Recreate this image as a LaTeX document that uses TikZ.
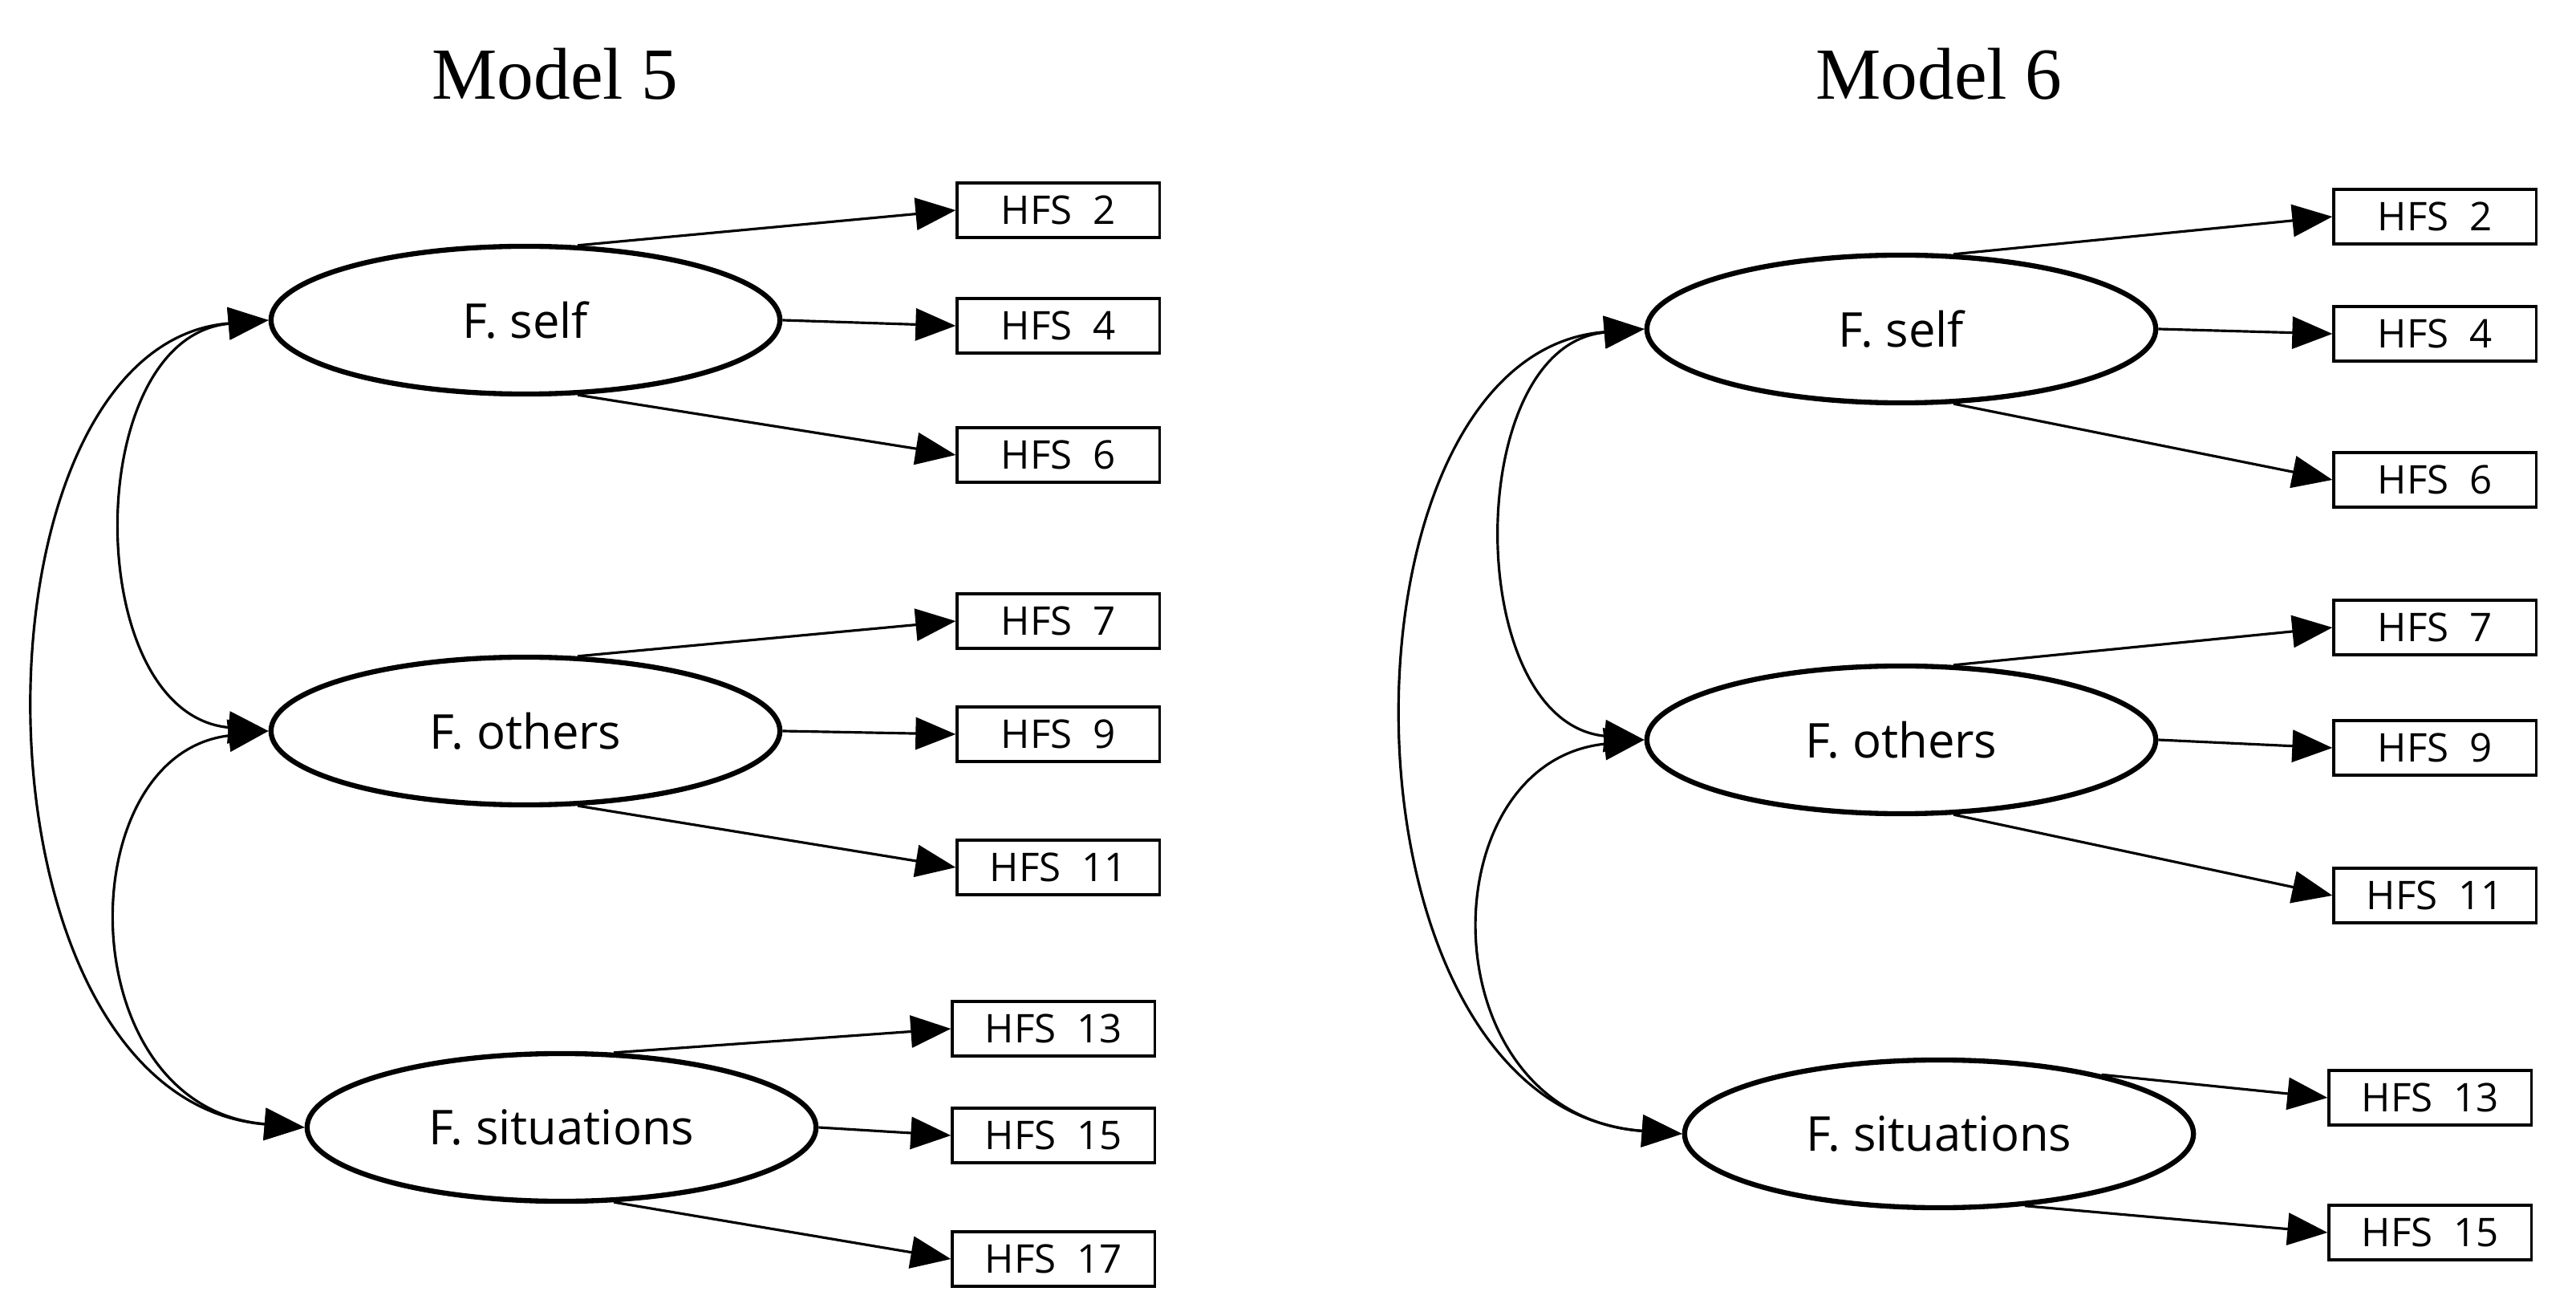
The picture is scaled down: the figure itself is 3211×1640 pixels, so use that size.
\documentclass[tikz,border=0pt]{standalone}
\usepackage{fontspec}
\setmainfont{Open Sans}
\newfontfamily\ttlfont{Liberation Serif}
\usetikzlibrary{arrows.meta,shapes.geometric}
\begin{document}
\begin{tikzpicture}[x=0.01cm,y=-0.01cm,
  lat/.style={draw,line width=1.8pt,ellipse,minimum width=6.34cm,minimum height=1.84cm,inner sep=0pt,font=\fontsize{17}{20}\selectfont},
  box/.style={draw,line width=0.9pt,minimum width=2.52cm,minimum height=0.68cm,inner sep=0pt,font=\fontsize{14}{17}\selectfont},
  ttl/.style={font=\ttlfont\fontsize{26}{30}\selectfont},
  ar/.style={line width=0.9pt,-{Triangle[length=0.5cm,width=0.4cm]}},
  dar/.style={line width=0.9pt,{Triangle[length=0.5cm,width=0.4cm]}-{Triangle[length=0.5cm,width=0.4cm]}}]
\useasboundingbox (0,0) rectangle (3211,1640);
\node[ttl] (t5) at (692,92) {Model 5};
\node[ttl] (t6) at (2417,92) {Model 6};
% Model 5
\node[lat] (s5) at (655,399) {F. self};
\node[lat] (o5) at (655,911) {F. others};
\node[lat] (u5) at (700,1405) {F. situations};
\node[box] (b52) at (1319,262) {HFS\ \ 2};
\node[box] (b54) at (1319,406) {HFS\ \ 4};
\node[box] (b56) at (1319,567) {HFS\ \ 6};
\node[box] (b57) at (1319,774) {HFS\ \ 7};
\node[box] (b59) at (1319,915) {HFS\ \ 9};
\node[box] (b511) at (1319,1081) {HFS\ \ 11};
\node[box] (b513) at (1313,1282) {HFS\ \ 13};
\node[box] (b515) at (1313,1415) {HFS\ \ 15};
\node[box] (b517) at (1313,1569) {HFS\ \ 17};
\draw[ar] (s5.55) -- (b52.west);
\draw[ar] (s5.east) -- (b54.west);
\draw[ar] (s5.-55) -- (b56.west);
\draw[ar] (o5.55) -- (b57.west);
\draw[ar] (o5.east) -- (b59.west);
\draw[ar] (o5.-55) -- (b511.west);
\draw[ar] (u5.55) -- (b513.west);
\draw[ar] (u5.east) -- (b515.west);
\draw[ar] (u5.-55) -- (b517.west);
\draw[dar] (s5.west) .. controls (100,420) and (100,890) .. (o5.west);
\draw[dar] (o5.west) .. controls (85,940) and (85,1380) .. (u5.west);
\draw[dar] (s5.west) .. controls (-52,430) and (-52,1370) .. (u5.west);
% Model 6
\node[lat] (s6) at (2370,410) {F. self};
\node[lat] (o6) at (2370,922) {F. others};
\node[lat] (u6) at (2417,1413) {F. situations};
\node[box] (b62) at (3035,270) {HFS\ \ 2};
\node[box] (b64) at (3035,416) {HFS\ \ 4};
\node[box] (b66) at (3035,598) {HFS\ \ 6};
\node[box] (b67) at (3035,782) {HFS\ \ 7};
\node[box] (b69) at (3035,932) {HFS\ \ 9};
\node[box] (b611) at (3035,1116) {HFS\ \ 11};
\node[box] (b613) at (3029,1368) {HFS\ \ 13};
\node[box] (b615) at (3029,1536) {HFS\ \ 15};
\draw[ar] (s6.55) -- (b62.west);
\draw[ar] (s6.east) -- (b64.west);
\draw[ar] (s6.-55) -- (b66.west);
\draw[ar] (o6.55) -- (b67.west);
\draw[ar] (o6.east) -- (b69.west);
\draw[ar] (o6.-55) -- (b611.west);
\draw[ar] (u6.20) -- (b613.west);
\draw[ar] (u6.-40) -- (b615.west);
\draw[dar] (s6.west) .. controls (1822,430) and (1822,900) .. (o6.west);
\draw[dar] (o6.west) .. controls (1778,950) and (1778,1390) .. (u6.west);
\draw[dar] (s6.west) .. controls (1650,440) and (1650,1380) .. (u6.west);
\end{tikzpicture}
\end{document}
